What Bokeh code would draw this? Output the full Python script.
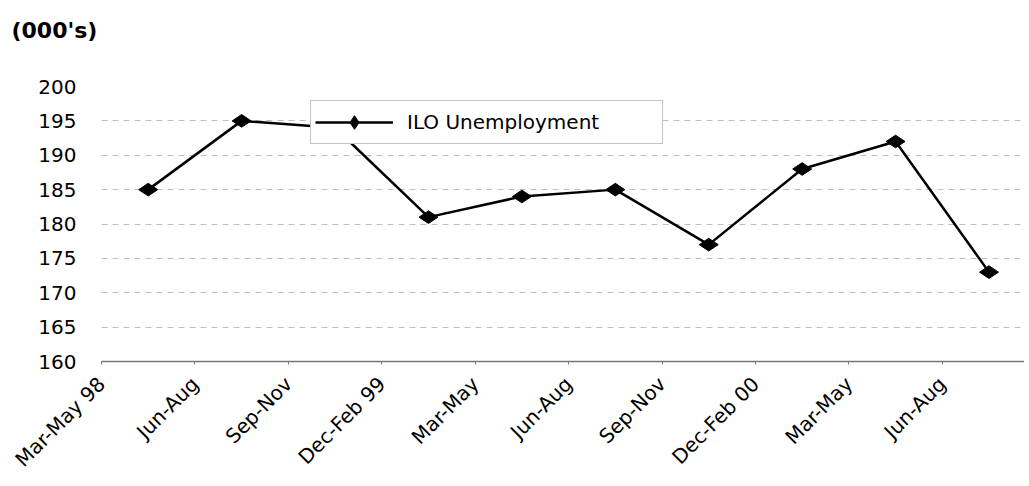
import numpy as np
from math import pi
from bokeh.plotting import figure
from bokeh.models import (Range1d, FixedTicker, Legend, LegendItem, Title,
                          LinearAxis)
from bokeh.embed import file_html
from bokeh.resources import INLINE

categories = ["Mar-May 98", "Jun-Aug", "Sep-Nov", "Dec-Feb 99", "Mar-May",
              "Jun-Aug", "Sep-Nov", "Dec-Feb 00", "Mar-May", "Jun-Aug"]
unemployment = [185, 195, 194, 181, 184, 185, 177, 188, 192, 173]
y_ticks = [160, 165, 170, 175, 180, 185, 190, 195, 200]
series_name = "ILO Unemployment"
unit_label = "(000's)"

FONT = "DejaVu Sans"

n = len(categories)
x_pos = np.arange(n) + 0.5  # points sit between category boundaries

p = figure(width=1024, height=484, output_backend="svg", toolbar_location=None,
           x_range=Range1d(0, 9.88), y_range=Range1d(y_ticks[0], y_ticks[-1]),
           min_border_left=101, min_border_right=0, min_border_top=86,
           min_border_bottom=123)
p.outline_line_color = None
p.background_fill_color = "white"
p.border_fill_color = "white"

line_r = p.line(x_pos, unemployment, line_color="black", line_width=2.5)
scat_r = p.scatter(x_pos, unemployment, marker="diamond", size=19, angle=pi / 2,
                   fill_color="black", line_color="black")

# x axis: boundaries as ticks, labels at boundaries
p.xaxis.ticker = FixedTicker(ticks=list(range(n + 1)))
overrides = {i: c for i, c in enumerate(categories)}
overrides[n] = ""
p.xaxis.major_label_overrides = overrides
p.xaxis.major_label_orientation = pi / 4
p.xaxis.major_label_standoff = 16
p.xaxis.major_label_text_font = FONT
p.xaxis.major_label_text_font_size = "20px"
p.xaxis.major_label_text_color = "black"
p.xaxis.axis_line_color = "#777777"
p.xaxis.axis_line_width = 1.5
p.xaxis.major_tick_line_color = "#777777"
p.xaxis.major_tick_out = 3
p.xaxis.major_tick_in = 0
p.xaxis.minor_tick_line_color = None

# y axis
p.yaxis.ticker = FixedTicker(ticks=y_ticks)
p.yaxis.axis_line_color = None
p.yaxis.major_tick_line_color = None
p.yaxis.minor_tick_line_color = None
p.yaxis.major_label_standoff = 19
p.yaxis.major_label_text_font = FONT
p.yaxis.major_label_text_font_size = "20px"
p.yaxis.major_label_text_color = "black"

p.xgrid.visible = False
p.ygrid.grid_line_color = "#b4b4b4"
p.ygrid.grid_line_dash = "6 5"
p.ygrid.grid_line_width = 1
p.ygrid.grid_line_alpha = 0.85

legend = Legend(items=[LegendItem(label=series_name, renderers=[line_r, scat_r])],
                location=(209, 217), orientation="vertical",
                border_line_color="#888888", border_line_width=1,
                background_fill_color="white", background_fill_alpha=1.0,
                label_text_font=FONT, label_text_font_size="20px",
                label_text_color="black",
                glyph_width=78, glyph_height=34, label_height=34,
                label_width=251, label_standoff=14, padding=4, margin=0,
                spacing=0)
p.add_layout(legend, "center")

# invisible spacer (nearest the frame) so the unit title sits near the top
spacer = LinearAxis(ticker=FixedTicker(ticks=[0]), axis_line_color=None,
                    major_tick_line_color=None, minor_tick_line_color=None,
                    major_tick_out=44, major_tick_in=0, major_label_standoff=0,
                    major_label_overrides={0: ""},
                    major_label_text_font_size="1px",
                    major_label_text_color=None)
p.add_layout(spacer, "above")

title = Title(text=unit_label, align="left", offset=-90, standoff=0,
              text_font=FONT, text_font_style="bold", text_font_size="22px",
              text_color="black")
p.add_layout(title, "above")

open("out.html", "w").write(file_html(p, INLINE))
